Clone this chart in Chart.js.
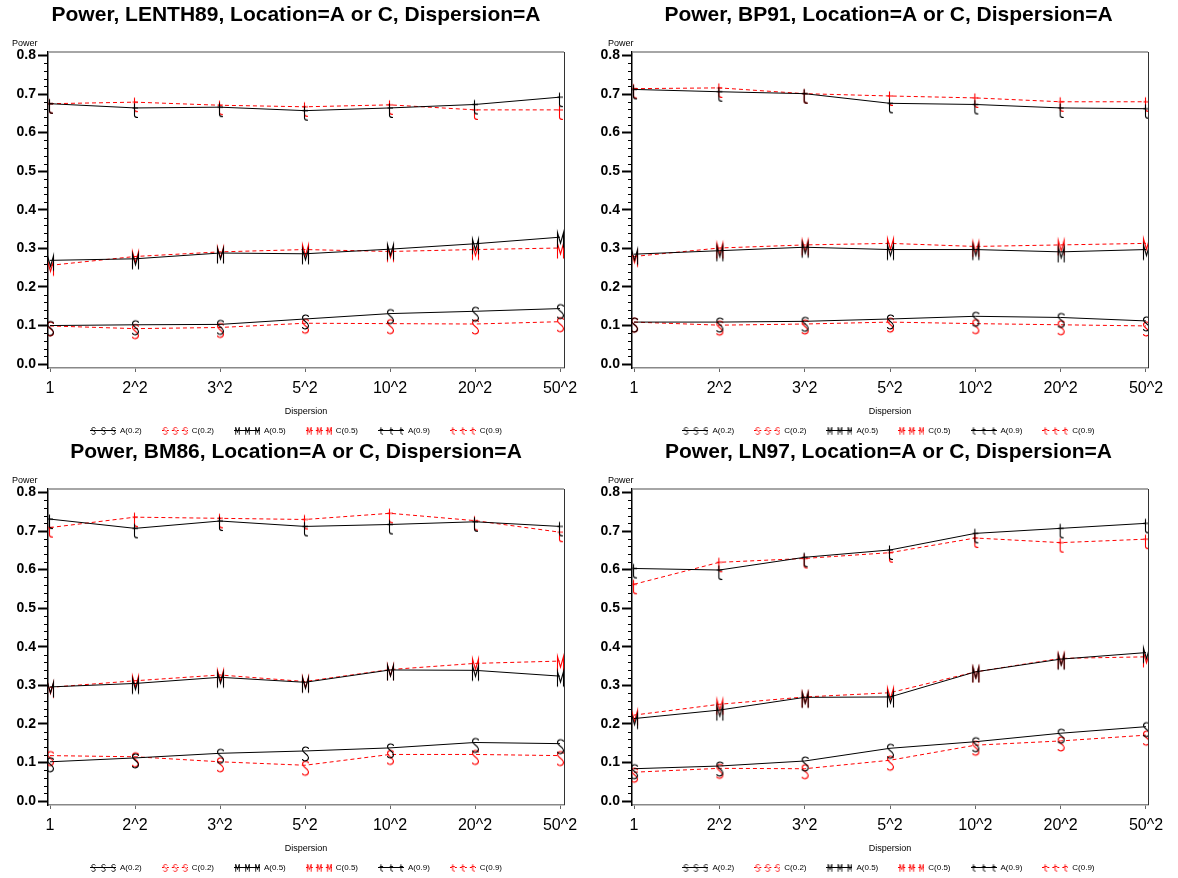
<!DOCTYPE html>
<html>
<head>
<meta charset="utf-8">
<script src="https://cdn.jsdelivr.net/npm/chart.js@4.4.1/dist/chart.umd.min.js"></script>
<style>
  html, body { margin: 0; padding: 0; background: #fff; overflow: hidden; }
  canvas { position: absolute; }
</style>
</head>
<body>
<canvas id="c0" width="592" height="445" style="left:0;top:0"></canvas>
<canvas id="c1" width="585" height="445" style="left:596px;top:0"></canvas>
<canvas id="c2" width="592" height="445" style="left:0;top:437px"></canvas>
<canvas id="c3" width="585" height="445" style="left:596px;top:437px"></canvas>
<script>
const dispersion = ['1', '2^2', '3^2', '5^2', '10^2', '20^2', '50^2'];
const seriesNames = ['A(0.2)', 'C(0.2)', 'A(0.5)', 'C(0.5)', 'A(0.9)', 'C(0.9)'];
const yTicks = [0, 0.1, 0.2, 0.3, 0.4, 0.5, 0.6, 0.7, 0.8];

// LENTH89
const lenthA02 = [0.100, 0.102, 0.103, 0.117, 0.131, 0.137, 0.144];
const lenthC02 = [0.099, 0.092, 0.095, 0.106, 0.105, 0.104, 0.110];
const lenthA05 = [0.269, 0.273, 0.288, 0.286, 0.298, 0.312, 0.329];
const lenthC05 = [0.256, 0.279, 0.291, 0.297, 0.292, 0.297, 0.301];
const lenthA09 = [0.675, 0.664, 0.666, 0.657, 0.664, 0.673, 0.692];
const lenthC09 = [0.675, 0.679, 0.671, 0.667, 0.672, 0.659, 0.659];

// BP91
const bpA02 = [0.109, 0.109, 0.111, 0.117, 0.124, 0.121, 0.112];
const bpC02 = [0.109, 0.101, 0.104, 0.109, 0.105, 0.102, 0.099];
const bpA05 = [0.285, 0.294, 0.303, 0.297, 0.297, 0.291, 0.297];
const bpC05 = [0.279, 0.301, 0.309, 0.313, 0.305, 0.309, 0.313];
const bpA09 = [0.712, 0.706, 0.701, 0.676, 0.673, 0.664, 0.662];
const bpC09 = [0.714, 0.716, 0.701, 0.695, 0.690, 0.680, 0.680];

// BM86
const bmA02 = [0.102, 0.112, 0.124, 0.130, 0.138, 0.152, 0.149];
const bmC02 = [0.118, 0.115, 0.102, 0.093, 0.121, 0.121, 0.118];
const bmA05 = [0.296, 0.305, 0.321, 0.308, 0.340, 0.339, 0.324];
const bmC05 = [0.295, 0.312, 0.327, 0.310, 0.341, 0.357, 0.363];
const bmA09 = [0.731, 0.707, 0.726, 0.712, 0.717, 0.724, 0.712];
const bmC09 = [0.709, 0.736, 0.733, 0.730, 0.746, 0.727, 0.697];

// LN97
const lnA02 = [0.084, 0.091, 0.104, 0.137, 0.154, 0.176, 0.193];
const lnC02 = [0.075, 0.085, 0.084, 0.106, 0.145, 0.156, 0.171];
const lnA05 = [0.214, 0.236, 0.269, 0.270, 0.335, 0.368, 0.385];
const lnC05 = [0.223, 0.251, 0.270, 0.281, 0.335, 0.370, 0.374];
const lnA09 = [0.603, 0.599, 0.632, 0.651, 0.694, 0.707, 0.720];
const lnC09 = [0.562, 0.619, 0.629, 0.644, 0.682, 0.670, 0.679];

const panels = [
  {id: 'c0', title: 'Power, LENTH89, Location=A or C, Dispersion=A', series: [lenthA02, lenthC02, lenthA05, lenthC05, lenthA09, lenthC09], left: true},
  {id: 'c1', title: 'Power, BP91, Location=A or C, Dispersion=A', series: [bpA02, bpC02, bpA05, bpC05, bpA09, bpC09], left: false},
  {id: 'c2', title: 'Power, BM86, Location=A or C, Dispersion=A', series: [bmA02, bmC02, bmA05, bmC05, bmA09, bmC09], left: true},
  {id: 'c3', title: 'Power, LN97, Location=A or C, Dispersion=A', series: [lnA02, lnC02, lnA05, lnC05, lnA09, lnC09], left: false}
];

// styles
const letters = ['S', 'S', 'M', 'M', 't', 't'];
const colors = ['#000', '#ff0000', '#000', '#ff0000', '#000', '#ff0000'];
const dashed = [false, true, false, true, false, true];
const FONT = '"Liberation Sans", Arial, sans-serif';

// thin stroked letter, origin at the data point
function letterPath(g, ch) {
  g.beginPath();
  if (ch === 'S') {
    g.moveTo(3, -2);
    g.bezierCurveTo(3, -4.8, -3, -4.8, -3, -1);
    g.bezierCurveTo(-3, 2, 3, 3, 3, 6.5);
    g.bezierCurveTo(3, 10.8, -3, 10.8, -3, 8);
  } else if (ch === 'M') {
    g.moveTo(-3, 10.5);
    g.lineTo(-3, -4.5);
    g.lineTo(0, 6);
    g.lineTo(3, -4.5);
    g.lineTo(3, 10.5);
  } else {
    g.moveTo(-1, -4.5);
    g.lineTo(-1, 7.5);
    g.quadraticCurveTo(-1, 9.5, 2.5, 9.5);
    g.moveTo(-3, 0);
    g.lineTo(2.5, 0);
  }
  g.stroke();
}

function markerCanvas(ch, color) {
  const c = document.createElement('canvas');
  c.width = 14; c.height = 30;
  const g = c.getContext('2d');
  g.strokeStyle = color;
  g.lineWidth = 1.1;
  g.translate(7.5, 15);
  letterPath(g, ch);
  return c;
}

function sampleCanvas(ch, color, dash) {
  const c = document.createElement('canvas');
  c.width = 26; c.height = 12;
  const g = c.getContext('2d');
  g.strokeStyle = color;
  g.lineWidth = 1;
  if (dash) g.setLineDash([2, 3]);
  g.beginPath();
  g.moveTo(0, 5.5);
  g.lineTo(26, 5.5);
  g.stroke();
  g.setLineDash([]);
  [3, 13, 23].forEach(x => {
    g.save();
    g.translate(x + 0.5, 4.5);
    g.scale(0.6, 0.5);
    g.lineWidth = 1.6;
    letterPath(g, ch);
    g.restore();
  });
  return c;
}

const markers = letters.map((ch, i) => markerCanvas(ch, colors[i]));
const samples = letters.map((ch, i) => sampleCanvas(ch, colors[i], dashed[i]));

const framePlugin = {
  id: 'frame',
  afterDraw(chart) {
    const {ctx, chartArea: a} = chart;
    const y = chart.scales.y;
    ctx.save();
    // top and right border
    ctx.strokeStyle = '#888';
    ctx.lineWidth = 1.5;
    ctx.beginPath();
    ctx.moveTo(a.left, a.top);
    ctx.lineTo(a.right, a.top);
    ctx.stroke();
    ctx.strokeStyle = '#333';
    ctx.lineWidth = 1;
    ctx.beginPath();
    ctx.moveTo(a.right + 0.5, a.top);
    ctx.lineTo(a.right + 0.5, a.bottom);
    ctx.stroke();
    // minor ticks
    ctx.strokeStyle = '#000';
    ctx.beginPath();
    for (let k = 0; k <= 40; k++) {
      if (k % 5 === 0) continue;
      const py = Math.round(y.getPixelForValue(k * 0.02)) + 0.5;
      ctx.moveTo(a.left - 4, py);
      ctx.lineTo(a.left, py);
    }
    ctx.stroke();
    // y axis title
    ctx.fillStyle = '#000';
    ctx.font = '9px ' + FONT;
    ctx.textBaseline = 'middle';
    ctx.textAlign = 'left';
    ctx.fillText('Power', 12, a.top - 8);
    ctx.restore();
  }
};

panels.forEach(p => {
  const yWidth = p.left ? 48 : 36;
  const rightGap = p.left ? 28 : 33;
  const unit = p.left ? 85 : 85.33;
  const xMin = -2 / unit;
  const xMax = 6 + (p.left ? 4 : 2) / unit;

  const datasets = p.series.map((vals, i) => ({
    label: seriesNames[i],
    data: vals.map((v, k) => ({x: k, y: v})),
    borderColor: colors[i],
    borderWidth: 1,
    borderDash: dashed[i] ? [4, 3] : [],
    pointStyle: markers[i],
    pointRadius: 3,
    tension: 0,
    clip: 0,
    fill: false
  }));

  new Chart(document.getElementById(p.id), {
    type: 'line',
    data: {datasets},
    plugins: [framePlugin],
    options: {
      responsive: false,
      animation: false,
      events: [],
      layout: {padding: 0, autoPadding: false},
      plugins: {
        title: {
          display: true,
          text: p.title,
          color: '#000',
          font: {family: FONT, size: 21, weight: 'bold', lineHeight: 1.2},
          padding: {top: 2.5, bottom: 24.3}
        },
        legend: {
          position: 'bottom',
          labels: {
            usePointStyle: true,
            pointStyleWidth: 26,
            padding: 20,
            color: '#000',
            font: {family: FONT, size: 8},
            generateLabels: chart => chart.data.datasets.map((ds, i) => ({
              text: ds.label,
              pointStyle: samples[i],
              fillStyle: 'transparent',
              strokeStyle: 'transparent',
              lineWidth: 0,
              hidden: false,
              datasetIndex: i,
              fontColor: '#000'
            }))
          }
        },
        tooltip: {enabled: false}
      },
      scales: {
        x: {
          type: 'linear',
          min: xMin,
          max: xMax,
          afterBuildTicks: s => { s.ticks = dispersion.map((_, k) => ({value: k})); },
          afterFit: s => { s.height = 39; },
          ticks: {
            callback: v => dispersion[v],
            color: '#000',
            font: {family: FONT, size: 16},
            padding: 7,
            maxRotation: 0,
            autoSkip: false
          },
          grid: {display: true, drawOnChartArea: false, tickLength: 4, tickColor: '#666', tickWidth: 1},
          border: {display: true, color: '#888', width: 1.5},
          title: {
            display: true,
            text: 'Dispersion',
            color: '#000',
            font: {family: FONT, size: 9},
            padding: {top: 0, bottom: -10}
          }
        },
        y: {
          min: -0.01,
          max: 0.809,
          afterBuildTicks: s => { s.ticks = yTicks.map(v => ({value: v})); },
          afterFit: s => { s.width = yWidth; },
          ticks: {
            callback: v => v.toFixed(1),
            color: '#000',
            font: {family: FONT, size: 14, weight: 'bold'},
            padding: 2
          },
          grid: {display: true, drawOnChartArea: false, tickLength: 10, tickColor: '#000', tickWidth: 2},
          border: {display: true, color: '#000', width: 1.5}
        },
        gap: {
          type: 'linear',
          position: 'right',
          min: 0,
          max: 1,
          afterFit: s => { s.width = rightGap; },
          ticks: {display: false},
          grid: {display: false},
          border: {display: false}
        }
      }
    }
  });
});
</script>
</body>
</html>
